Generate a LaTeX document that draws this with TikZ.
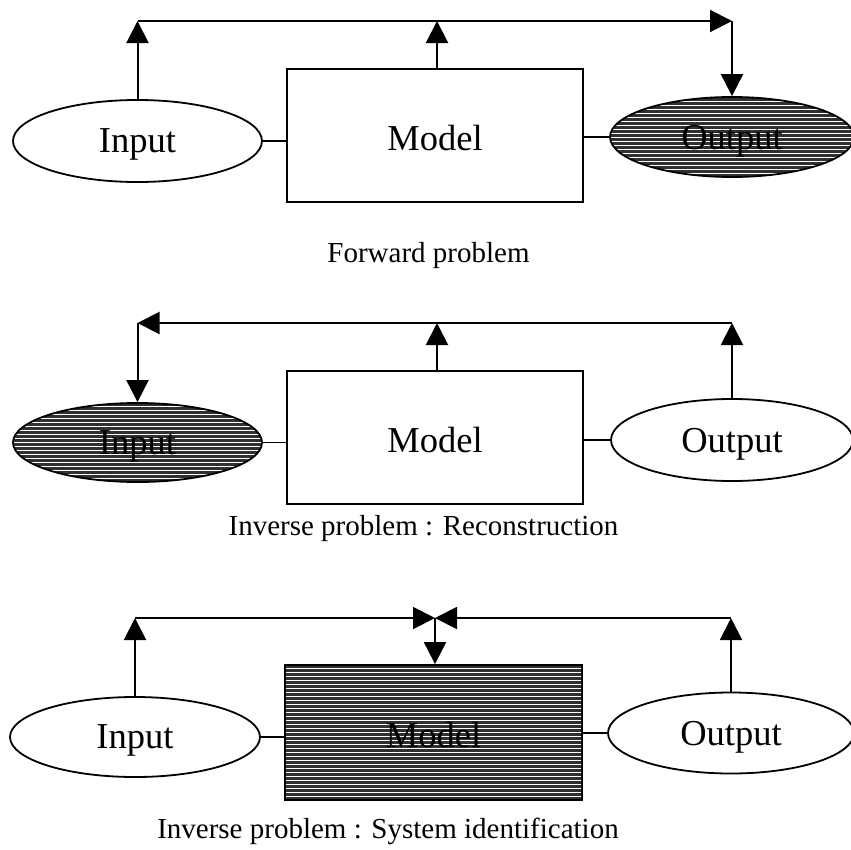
\documentclass[tikz,border=0pt]{standalone}
\usepackage{fontspec}
\setmainfont{Liberation Serif}
\usetikzlibrary{shapes.geometric,arrows.meta}
\definecolor{hatchdark}{HTML}{303030}
\tikzset{
  hline/.style={white, line width=0.8pt},
  ell/.style={ellipse, draw, line width=1.8pt, inner sep=0pt, text depth=0pt,
    font=\fontsize{36.5}{40}\selectfont},
  box/.style={rectangle, draw, line width=1.8pt, inner sep=0pt, text height=30pt, text depth=0pt,
    font=\fontsize{36.5}{40}\selectfont},
  dark/.style={fill=hatchdark, path picture={
      \foreach \k in {-20,...,20}
        \draw[hline] ([yshift=\k*4pt]path picture bounding box.west) -- ([yshift=\k*4pt]path picture bounding box.east);
    }},
  arr/.style={line width=2pt, -{Triangle[length=22pt,width=22pt]}},
  side/.style={line width=1.4pt},
  lbl/.style={inner sep=0pt, font=\fontsize{29}{32}\selectfont}
}
\begin{document}
\begin{tikzpicture}[x=1pt,y=-1pt]
\useasboundingbox (0,0) rectangle (851,849);

% ---------- Forward problem ----------
\node[ell, minimum width=249pt, minimum height=82pt] (in1) at (137.5,141) {Input};
\node[box, minimum width=296pt, minimum height=133pt] (m1) at (435,135.5) {Model};
\node[ell, dark, minimum width=244pt, minimum height=80pt] (out1) at (732,137) {Output};
\coordinate (t1L) at (137.5,21);
\coordinate (t1M) at (437,21);
\coordinate (t1R) at (732,21);
\draw[side] (in1.east) -- (in1.east -| m1.west);
\draw[side] (m1.east |- out1.west) -- (out1.west);
\draw[arr] (in1.north) -- (t1L);
\draw[arr] (t1L) -- (t1R);
\draw[arr] (m1.north -| t1M) -- (t1M);
\draw[arr] (t1R) -- (out1.north);
\node[lbl, anchor=base] (cap1) at (428.5,262) {Forward problem};

% ---------- Reconstruction ----------
\node[ell, dark, minimum width=249pt, minimum height=79pt] (in2) at (137.5,442.5) {Input};
\node[box, minimum width=296pt, minimum height=133pt] (m2) at (435,437.5) {Model};
\node[ell, minimum width=242pt, minimum height=82pt] (out2) at (732,440) {Output};
\coordinate (t2L) at (137.5,323);
\coordinate (t2M) at (437,323);
\coordinate (t2R) at (732,323);
\draw[side] (in2.east) -- (in2.east -| m2.west);
\draw[side] (m2.east |- out2.west) -- (out2.west);
\draw[arr] (t2R) -- (t2L);
\draw[arr] (t2L) -- (in2.north);
\draw[arr] (out2.north) -- (t2R);
\draw[arr] (m2.north -| t2M) -- (t2M);
\node[lbl, anchor=base] (cap2) at (423.5,535) {Inverse problem : Reconstruction};

% ---------- System identification ----------
\node[ell, minimum width=250pt, minimum height=80pt] (in3) at (135,737) {Input};
\node[box, dark, minimum width=297pt, minimum height=135pt] (m3) at (433.5,732.5) {Model};
\node[ell, minimum width=246pt, minimum height=81pt] (out3) at (731,733) {Output};
\coordinate (t3L) at (135,618);
\coordinate (t3M) at (435,618);
\coordinate (t3R) at (731,618);
\draw[side] (in3.east) -- (in3.east -| m3.west);
\draw[side] (m3.east |- out3.west) -- (out3.west);
\draw[arr] (in3.north) -- (t3L);
\draw[arr] (t3L) -- (t3M);
\draw[arr] (out3.north) -- (t3R);
\draw[arr] (t3R) -- (t3M);
\draw[arr] (t3M) -- (m3.north -| t3M);
\node[lbl, anchor=base] (cap3) at (388,838) {Inverse problem : System identification};
\end{tikzpicture}
\end{document}
